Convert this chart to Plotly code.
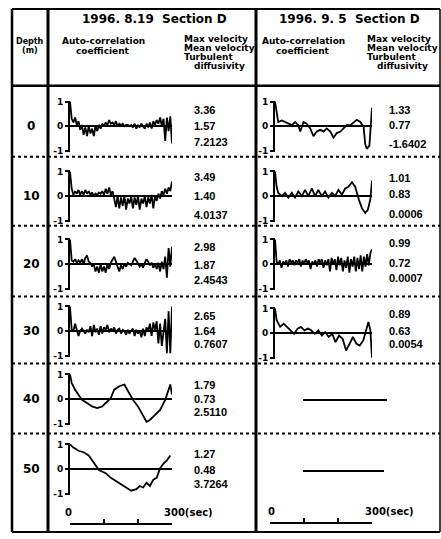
import plotly.graph_objects as go

W, H = 441, 539

# ---------------- data ----------------
T5 = list(range(0, 301, 5))
depth_labels = ["0", "10", "20", "30", "40", "50"]
header_0819 = "1996. 8.19  Section D"
header_0905 = "1996. 9. 5  Section D"

# 1996.8.19 auto-correlation coefficients (lag in sec)
ac_0819_d0 = [1.0, 0.3, 0.15, 0.35, 0.05, 0.2, -0.15, 0.05, -0.35, -0.05,
              -0.4, 0.0, -0.3, -0.1, -0.4, 0.0, -0.2, 0.05, -0.1, 0.1,
              0.0, 0.15, 0.05, 0.25, 0.1, 0.15, 0.05, 0.2, 0.0, 0.1,
              0.05, 0.1, 0.0, 0.05, 0.05, 0.0, 0.05, -0.05, 0.1, -0.1,
              0.05, -0.05, 0.1, 0.0, -0.1, 0.1, -0.05, 0.15, -0.1, 0.2,
              0.05, 0.25, 0.1, 0.35, 0.0, 0.3, -0.6, 0.35, -0.2, 0.4,
              -0.7]
ac_0819_d10 = [1.0, 0.3, 0.05, 0.2, 0.1, 0.25, 0.05, 0.2, 0.05, 0.25,
               0.1, 0.2, 0.05, 0.15, 0.0, 0.1, 0.05, 0.15, 0.1, 0.2,
               0.05, 0.3, 0.1, 0.35, 0.05, 0.2, -0.1, -0.45, 0.0, -0.5,
               -0.05, -0.4, 0.0, -0.55, -0.1, -0.3, 0.0, -0.5, -0.05, -0.35,
               0.0, -0.55, -0.1, -0.3, 0.0, -0.45, -0.05, -0.3, 0.05, -0.5,
               0.0, -0.2, 0.1, -0.1, 0.2, 0.05, 0.3, 0.1, 0.35, 0.2,
               0.6]
ac_0819_d20 = [1.0, 0.15, 0.1, 0.2, 0.05, 0.15, 0.05, 0.2, 0.0, 0.25,
               0.35, 0.1, 0.05, -0.1, 0.0, -0.3, -0.1, -0.35, 0.0, -0.3,
               -0.1, -0.35, 0.0, -0.2, 0.05, 0.15, 0.3, 0.1, -0.15, -0.3,
               -0.05, -0.2, 0.0, -0.1, 0.05, 0.0, -0.05, 0.1, 0.25, 0.15,
               0.05, -0.1, 0.0, -0.15, 0.05, 0.2, 0.1, -0.05, 0.05, -0.15,
               0.0, -0.2, 0.05, -0.3, 0.1, -0.2, 0.3, -0.55, 0.65, -0.1,
               0.7]
ac_0819_d30 = [1.0, 0.05, 0.0, 0.3, 0.05, -0.2, 0.0, 0.1, 0.0, -0.1,
               0.05, -0.05, 0.2, -0.2, 0.25, -0.05, 0.1, -0.15, 0.2, -0.1,
               0.15, 0.05, 0.25, -0.05, 0.1, 0.0, 0.15, -0.1, 0.05, 0.1,
               -0.1, 0.05, 0.0, -0.15, 0.05, -0.1, 0.0, 0.1, -0.2, 0.05,
               -0.1, 0.0, -0.25, 0.1, -0.2, 0.15, 0.0, 0.3, -0.2, 0.35,
               0.05, 0.4, -0.5, 0.3, -0.6, 0.1, 0.5, -0.9, 0.8, -0.9,
               1.0]
t_0819_d40 = [0, 5, 15, 25, 35, 50, 65, 80, 95, 105, 120, 130, 145, 160, 170,
              185, 200, 215, 225, 235, 250, 265, 280, 290, 295, 300]
ac_0819_d40 = [1.0, 0.65, 0.38, 0.18, -0.03, -0.16, -0.30, -0.37, -0.30, -0.16,
               0.04, 0.38, 0.52, 0.59, 0.32, -0.03, -0.30, -0.64, -0.92, -0.85,
               -0.64, -0.44, -0.03, 0.38, 0.59, 0.18]
t_0819_d50 = [0, 10, 25, 40, 55, 65, 75, 85, 105, 120, 135, 150, 165, 180, 195,
              205, 215, 225, 235, 245, 255, 265, 275, 285, 295]
ac_0819_d50 = [1.0, 0.87, 0.74, 0.68, 0.55, 0.35, 0.16, -0.04, -0.17, -0.36,
               -0.49, -0.62, -0.75, -0.88, -0.82, -0.69, -0.75, -0.56, -0.69, -0.43,
               -0.36, 0.03, 0.22, 0.35, 0.55]
max_vel_0819 = [3.36, 3.49, 2.98, 2.65, 1.79, 1.27]
mean_vel_0819 = [1.57, 1.40, 1.87, 1.64, 0.73, 0.48]
turb_diff_0819 = [7.2123, 4.0137, 2.4543, 0.7607, 2.5110, 3.7264]

# 1996.9.5 auto-correlation coefficients
t_0905_d0 = [0, 5, 10, 21, 31, 41, 52, 62, 72, 78, 88, 98, 109, 119, 129, 140, 150,
             160, 171, 181, 191, 202, 212, 222, 233, 243, 253, 264, 274, 279, 284,
             292, 295, 300]
ac_0905_d0 = [1.0, 0.62, 0.17, 0.23, 0.17, 0.10, 0.04, 0.17, 0.04, -0.22,
              0.17, 0.10, -0.09, -0.41, -0.22, -0.15, -0.22, -0.09, -0.22, -0.47,
              -0.28, -0.22, -0.09, 0.04, 0.04, 0.17, 0.26, 0.17, -0.03, -0.73,
              -0.92, -0.79, -0.15, 0.75]
t_0905_d10 = [0, 5, 10, 21, 31, 41, 52, 62, 72, 83, 93, 103, 114, 124, 134, 145,
              155, 165, 176, 186, 196, 207, 217, 227, 238, 248, 259, 269, 279, 287,
              295, 300]
ac_0905_d10 = [1.0, 0.38, 0.13, 0.0, 0.13, -0.06, 0.13, -0.06, 0.19, 0.0,
               0.25, 0.0, 0.31, 0.0, 0.25, 0.0, 0.19, -0.06, 0.13, 0.0,
               0.25, 0.06, 0.31, 0.38, 0.56, 0.38, -0.13, -0.5, -0.69, -0.56,
               -0.13, 0.63]
ac_0905_d20 = [1.0, 0.1, 0.0, 0.15, -0.15, 0.1, 0.0, 0.15, -0.1, 0.2,
               0.05, 0.15, -0.05, 0.15, 0.05, 0.2, -0.1, 0.15, 0.0, 0.2,
               0.05, 0.15, -0.2, 0.1, 0.0, 0.15, -0.1, 0.2, 0.05, 0.2,
               -0.15, 0.15, -0.05, 0.2, -0.3, 0.25, 0.0, 0.2, -0.25, 0.3,
               -0.05, 0.25, -0.3, 0.15, -0.15, 0.3, -0.35, 0.2, -0.1, 0.3,
               -0.3, 0.25, -0.2, 0.35, -0.3, 0.3, -0.1, 0.4, -0.05, 0.45,
               0.6]
t_0905_d30 = [0, 5, 16, 27, 37, 48, 59, 70, 80, 91, 102, 112, 123, 134, 145, 155,
              166, 177, 187, 198, 209, 220, 230, 241, 252, 262, 273, 284, 289, 295, 300]
ac_0905_d30 = [1.0, 0.52, 0.25, 0.38, 0.25, 0.11, -0.03, 0.18, 0.25, 0.11,
               0.18, 0.11, -0.03, 0.11, -0.10, 0.04, -0.16, -0.03, -0.37, -0.10,
               -0.23, -0.71, -0.44, -0.16, -0.44, -0.51, -0.30, 0.25, 0.45, 0.11,
               -1.0]
max_vel_0905 = [1.33, 1.01, 0.99, 0.89]
mean_vel_0905 = [0.77, 0.83, 0.72, 0.63]
turb_diff_0905 = [-1.6402, 0.0006, 0.0007, 0.0054]

scale_ticks = [0, 100, 200, 300]

# ---------------- layout helpers (pixel -> paper) ----------------
def fx(x):
    return x / W


def fy(y):
    return 1 - y / H


BOLD = "DejaVu Sans"
NUM = "Liberation Sans"

curves_0819 = [(T5, ac_0819_d0), (T5, ac_0819_d10), (T5, ac_0819_d20),
               (T5, ac_0819_d30), (t_0819_d40, ac_0819_d40), (t_0819_d50, ac_0819_d50)]
curves_0905 = [(t_0905_d0, ac_0905_d0), (t_0905_d10, ac_0905_d10),
               (T5, ac_0905_d20), (t_0905_d30, ac_0905_d30)]

zero_left = [124, 195, 264, 332, 401, 472]
zero_right = [124, 195, 264, 334]
HALF = 26
LEFT_X = (70, 172)
RIGHT_X = (275, 372)

fig = go.Figure()
layout = {}
idx = [0]


def add_panel(t, v, xdom, zero, scale_y=None):
    idx[0] += 1
    i = idx[0]
    sx = "" if i == 1 else str(i)
    xa, ya = "x" + sx, "y" + sx
    fig.add_trace(go.Scatter(x=t, y=v, mode="lines", xaxis=xa, yaxis=ya,
                             line=dict(color="black", width=1.8), showlegend=False,
                             hoverinfo="skip"))
    xax = dict(domain=[fx(xdom[0]), fx(xdom[1])], range=[0, 300], showgrid=False,
               zeroline=False, fixedrange=True)
    if scale_y is None:
        xax.update(visible=False, anchor=ya)
    else:
        xax.update(visible=True, anchor="free", position=fy(scale_y), showline=True,
                   linecolor="black", linewidth=2, ticks="inside", ticklen=4,
                   tickwidth=2, tickcolor="black", tickvals=scale_ticks,
                   showticklabels=False)
    layout["xaxis" + sx] = xax
    if zero is None:
        layout["yaxis" + sx] = dict(domain=[0, 0.01], range=[5, 6], visible=False, anchor=xa)
    else:
        layout["yaxis" + sx] = dict(
            domain=[fy(zero + HALF), fy(zero - HALF)], range=[-1.04, 1.04], anchor=xa,
            tickvals=[-1, 0, 1], ticktext=["-1", "0", "1"], ticks="outside", ticklen=3,
            tickwidth=1.5, tickcolor="black", showline=True, linecolor="black",
            linewidth=2, zeroline=True, zerolinecolor="black", zerolinewidth=1.6,
            showgrid=False, fixedrange=True,
            tickfont=dict(family=BOLD, size=9, color="black", weight="bold"))
    return xa


for k, (t, v) in enumerate(curves_0819):
    add_panel(t, v, LEFT_X, zero_left[k], scale_y=528 if k == 5 else None)
for k, (t, v) in enumerate(curves_0905):
    add_panel(t, v, RIGHT_X, zero_right[k])
# right-hand time scale bar (empty panel)
add_panel([], [], (270, 372), None, scale_y=527)

# ---------------- table lines ----------------
shapes = []


def hline(y, x0, x1, w=2, dash="solid"):
    shapes.append(dict(type="line", xref="paper", yref="paper", x0=fx(x0), x1=fx(x1),
                       y0=fy(y), y1=fy(y), line=dict(color="black", width=w, dash=dash)))


def vline(x, y0, y1, w=2):
    shapes.append(dict(type="line", xref="paper", yref="paper", x0=fx(x), x1=fx(x),
                       y0=fy(y0), y1=fy(y1), line=dict(color="black", width=w)))


hline(5, 12, 440, 2)
hline(83, 12, 440, 2.5)
for yy in [155, 225, 297, 365, 436]:
    hline(yy, 12, 440, 2, "dot")
hline(536, 12, 440, 2)
vline(12, 5, 536, 2.5)
vline(48, 5, 536, 3)
vline(256, 5, 536, 3)
vline(440, 5, 536, 1.5)
# "no data" dashes for 1996.9.5 at 40 m and 50 m
hline(402, 303, 387, 2)
hline(474, 303, 384, 2)

# ---------------- texts ----------------
ann = []


def text(s, x, y, size=9, anchor="left", family=BOLD):
    ann.append(dict(text="<b>" + s + "</b>", x=fx(x), y=fy(y), xref="paper", yref="paper",
                    xanchor=anchor, yanchor="middle", showarrow=False,
                    font=dict(family=family, size=size, color="black")))


text(header_0819, 154, 15, 12, "center")
text(header_0905, 349, 15, 12, "center")
text("Depth", 30, 38, 8, "center")
text("(m)", 30, 47, 8, "center")
for x0, xr in [(103, 182), (303, 365)]:
    text("Auto-correlation", x0, 38, 9, "center")
    text("coefficient", x0, 48, 9, "center")
    text("Max velocity", xr, 36, 9)
    text("Mean velocity", xr, 45, 9)
    text("Turbulent", xr, 54, 9)
    text("diffusivity", xr + 10, 63, 9)

for k, d in enumerate(depth_labels):
    text(d, 31, zero_left[k], 12, "center")

off_left = [(-16, 0, 16), (-19, 0, 19), (-17, 1, 16), (-15, 0, 13), (-14, 0, 13), (-15, 1, 15)]
for k in range(6):
    a, b, c = off_left[k]
    z = zero_left[k]
    text(f"{max_vel_0819[k]:.2f}", 192, z + a, 11, family=NUM)
    text(f"{mean_vel_0819[k]:.2f}", 192, z + b, 11, family=NUM)
    text(f"{turb_diff_0819[k]:.4f}", 192, z + c, 11, family=NUM)

off_right = [(-16, -1, 18), (-18, -2, 18), (-21, -1, 14), (-19, -2, 11)]
for k in range(4):
    a, b, c = off_right[k]
    z = zero_right[k]
    text(f"{max_vel_0905[k]:.2f}", 387, z + a, 11, family=NUM)
    text(f"{mean_vel_0905[k]:.2f}", 387, z + b, 11, family=NUM)
    text(f"{turb_diff_0905[k]:.4f}", 387, z + c, 11, family=NUM)

# time-scale labels
text("0", 68, 516, 10, "center")
text("300(sec)", 162, 516, 10)
text("0", 271, 515, 10, "center")
text("300(sec)", 363, 515, 10)

fig.update_layout(**layout)
fig.update_layout(width=W, height=H, margin=dict(l=0, r=0, t=0, b=0),
                  paper_bgcolor="white", plot_bgcolor="rgba(0,0,0,0)",
                  shapes=shapes, annotations=ann, showlegend=False)
fig.write_html("out.html")
